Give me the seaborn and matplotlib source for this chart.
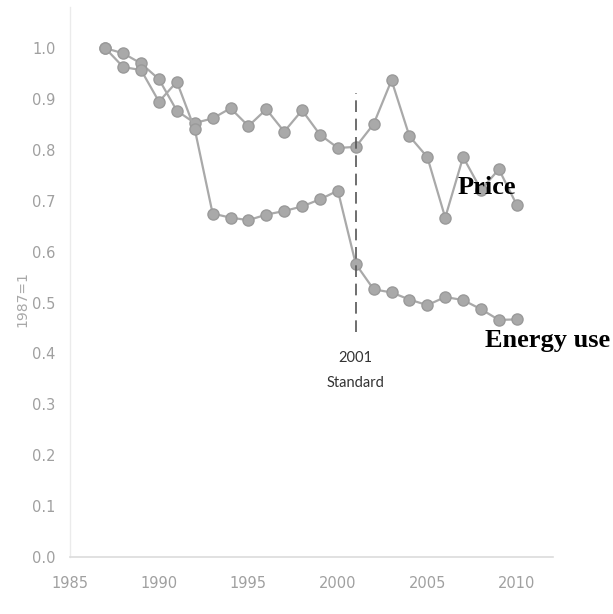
import numpy as np
import pandas as pd
import matplotlib
matplotlib.use("Agg")
import matplotlib.pyplot as plt
import seaborn as sns

# data (index, 1987 = 1)
years = list(range(1987, 2011))
price = [1.00, 0.99, 0.97, 0.939, 0.877, 0.853, 0.862, 0.882, 0.847, 0.880, 0.836, 0.878,
         0.830, 0.804, 0.806, 0.851, 0.937, 0.827, 0.786, 0.667, 0.786, 0.722, 0.762, 0.692]
energy = [1.00, 0.963, 0.957, 0.895, 0.934, 0.841, 0.675, 0.667, 0.662, 0.673, 0.680, 0.689,
          0.703, 0.720, 0.576, 0.526, 0.520, 0.506, 0.495, 0.511, 0.505, 0.487, 0.466, 0.467]
series_names = ["Price", "Energy use"]
x_ticks = [1985, 1990, 1995, 2000, 2005, 2010]
y_ticks = [0.0, 0.1, 0.2, 0.3, 0.4, 0.5, 0.6, 0.7, 0.8, 0.9, 1.0]
standard_year = 2001
standard_span = (0.442, 0.912)
standard_text = ["2001", "Standard"]
standard_text_y = [0.391, 0.342]
price_label_pos = (2006.7, 0.727)
energy_label_pos = (2008.2, 0.426)

df = pd.DataFrame({
    "year": years * 2,
    "value": price + energy,
    "series": [series_names[0]] * len(years) + [series_names[1]] * len(years),
})

sns.set_theme(style="white")
plt.rcParams["font.family"] = ["Liberation Sans Narrow", "DejaVu Sans"]

fig = plt.figure(figsize=(6.13, 6.14), dpi=100)
ax = fig.add_axes([0.1134, 0.0928, 0.788, 0.895])

sns.lineplot(data=df, x="year", y="value", hue="series",
             palette=["#a9a9a9", "#a9a9a9"], marker="o", markersize=8,
             markeredgecolor="#9a9a9a", markeredgewidth=1.0,
             linewidth=1.6, legend=False, ax=ax)

# 2001 standard marker
ax.plot([standard_year, standard_year], standard_span, color="#555555",
        linewidth=1.2, linestyle=(0, (7, 4)))
for txt, ty in zip(standard_text, standard_text_y):
    ax.text(standard_year, ty, txt, ha="center", va="center", fontsize=10.5,
            color="#333333", family=["Lato", "DejaVu Sans"])

ax.text(*price_label_pos, "Price", ha="left", va="center", fontsize=19,
        fontweight="bold", color="black", family=["Liberation Serif", "DejaVu Serif"])
ax.text(*energy_label_pos, "Energy use", ha="left", va="center", fontsize=19,
        fontweight="bold", color="black", family=["Liberation Serif", "DejaVu Serif"])

ax.set_xlim(1985, 2012)
ax.set_ylim(0, 1.08)
ax.set_xticks(x_ticks)
ax.set_yticks(y_ticks)
ax.set_yticklabels([f"{v:.1f}" for v in y_ticks])
ax.tick_params(axis="both", length=0, colors="#a0a0a0", labelsize=10.5)
ax.tick_params(axis="x", pad=14)
ax.tick_params(axis="y", pad=10)
ax.set_xlabel("")
ax.set_ylabel("1987=1", color="#a8a8a8", fontsize=10)
ax.yaxis.set_label_coords(-0.084, 0.47)

sns.despine(ax=ax, top=True, right=True)
ax.spines["left"].set_color("#ebebeb")
ax.spines["bottom"].set_color("#dcdcdc")
ax.spines["left"].set_linewidth(1.0)
ax.spines["bottom"].set_linewidth(1.2)

fig.savefig("out.png", dpi=100)
